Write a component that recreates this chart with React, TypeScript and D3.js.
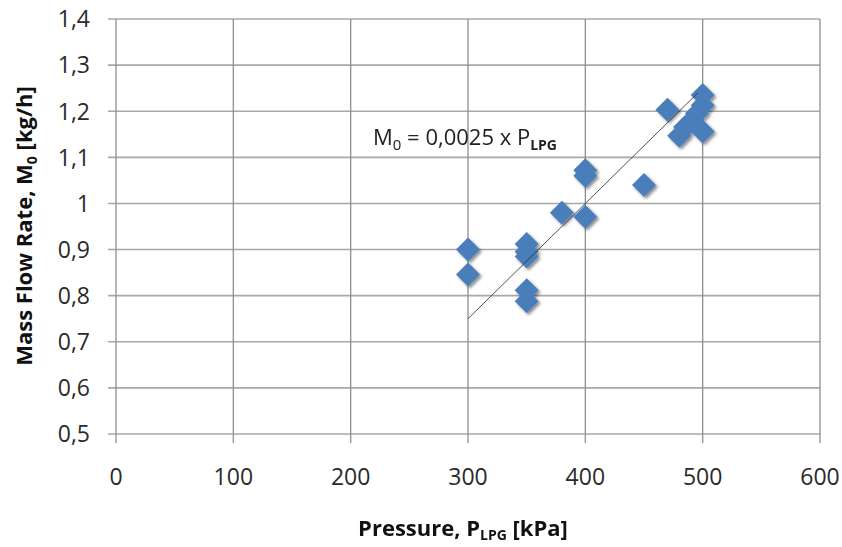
import * as d3 from "d3";
import { useEffect, useRef } from "react";

// measured points: pressure [kPa] and mass flow rate [kg/h]
const pressure = [300, 300, 350, 350, 350, 350, 350, 380, 400, 400, 400, 450, 470, 480, 485, 490, 495, 500, 500, 500];
const massFlow = [0.9, 0.846, 0.912, 0.895, 0.885, 0.812, 0.788, 0.98, 0.971, 1.072, 1.06, 1.04, 1.203, 1.147, 1.166, 1.177, 1.195, 1.235, 1.213, 1.156];

const xTicks = [0, 100, 200, 300, 400, 500, 600];
const yTicks = [0.5, 0.6, 0.7, 0.8, 0.9, 1.0, 1.1, 1.2, 1.3, 1.4];

const slope = 0.0025;
const fitRange = [300, 496];

const App = () => {
  const svgRef = useRef<SVGSVGElement>(null);

  useEffect(() => {
    const width = 842;
    const height = 547;
    const left = 116;
    const right = 820;
    const top = 19;
    const bottom = 434;
    const font = "'Open Sans', sans-serif";

    const x = d3.scaleLinear().domain([0, 600]).range([left, right]);
    const y = d3.scaleLinear().domain([0.5, 1.4]).range([bottom, top]);

    const svg = d3.select(svgRef.current);
    svg.selectAll("*").remove();
    svg.attr("width", width).attr("height", height).style("background", "#fff");

    const defs = svg.append("defs");
    const f = defs
      .append("filter")
      .attr("id", "shadow")
      .attr("x", "-50%")
      .attr("y", "-50%")
      .attr("width", "200%")
      .attr("height", "200%");
    f.append("feDropShadow")
      .attr("dx", 2)
      .attr("dy", 2)
      .attr("stdDeviation", 1.6)
      .attr("flood-color", "#000")
      .attr("flood-opacity", 0.45);

    // horizontal grid
    svg
      .append("g")
      .selectAll("line")
      .data(yTicks)
      .join("line")
      .attr("x1", left - 8)
      .attr("x2", right)
      .attr("y1", (d) => y(d))
      .attr("y2", (d) => y(d))
      .attr("stroke", "#a8a8a8")
      .attr("stroke-width", 1.6);

    // vertical grid
    svg
      .append("g")
      .selectAll("line")
      .data(xTicks)
      .join("line")
      .attr("x1", (d) => x(d))
      .attr("x2", (d) => x(d))
      .attr("y1", top)
      .attr("y2", bottom + 9)
      .attr("stroke", "#8f8f8f")
      .attr("stroke-width", 1.3);

    // tick labels
    const fmt = (v: number) => (v === 1 ? "1" : d3.format(".1f")(v).replace(".", ","));
    svg
      .append("g")
      .selectAll("text")
      .data(yTicks)
      .join("text")
      .attr("x", 90)
      .attr("y", (d) => y(d))
      .attr("dy", "0.36em")
      .attr("text-anchor", "end")
      .attr("font-family", font)
      .attr("font-size", 23)
      .attr("fill", "#2a2a2a")
      .text(fmt);

    svg
      .append("g")
      .selectAll("text")
      .data(xTicks)
      .join("text")
      .attr("x", (d) => x(d))
      .attr("y", 485)
      .attr("text-anchor", "middle")
      .attr("font-family", font)
      .attr("font-size", 23)
      .attr("fill", "#2a2a2a")
      .text((d) => d);

    // markers
    const r = 12;
    svg
      .append("g")
      .attr("filter", "url(#shadow)")
      .selectAll("path")
      .data(pressure.map((p, i) => [p, massFlow[i]]))
      .join("path")
      .attr("transform", (d) => `translate(${x(d[0])},${y(d[1])})`)
      .attr("d", `M0,${-r}L${r},0L0,${r}L${-r},0Z`)
      .attr("fill", "#4a7ebb");

    // fit line, on top of the markers
    svg
      .append("line")
      .attr("x1", x(fitRange[0]))
      .attr("y1", y(slope * fitRange[0]))
      .attr("x2", x(fitRange[1]))
      .attr("y2", y(slope * fitRange[1]))
      .attr("stroke", "#333")
      .attr("stroke-opacity", 0.85)
      .attr("stroke-width", 1);

    // equation
    const eq = svg
      .append("text")
      .attr("x", 373)
      .attr("y", 145)
      .attr("font-family", font)
      .attr("font-size", 22)
      .attr("fill", "#222");
    eq.append("tspan").text("M");
    eq.append("tspan").attr("font-size", 15).attr("dy", 5).text("0");
    eq.append("tspan").attr("dy", -5).text(" = 0,0025 x P");
    eq.append("tspan").attr("font-size", 14).attr("dy", 5).attr("font-weight", "bold").text("LPG");

    // x title
    const xt = svg
      .append("text")
      .attr("x", 463)
      .attr("y", 536)
      .attr("text-anchor", "middle")
      .attr("font-family", font)
      .attr("font-size", 22)
      .attr("font-weight", "bold")
      .attr("fill", "#111");
    xt.append("tspan").text("Pressure, P");
    xt.append("tspan").attr("font-size", 14).attr("dy", 4).text("LPG");
    xt.append("tspan").attr("dy", -4).text(" [kPa]");

    // y title
    const yt = svg
      .append("text")
      .attr("transform", "translate(32,226) rotate(-90)")
      .attr("text-anchor", "middle")
      .attr("font-family", font)
      .attr("font-size", 22)
      .attr("font-weight", "bold")
      .attr("fill", "#111");
    yt.append("tspan").text("Mass Flow Rate, M");
    yt.append("tspan").attr("font-size", 14).attr("dy", 5).text("0");
    yt.append("tspan").attr("dy", -5).text(" [kg/h]");
  }, []);

  return (
    <svg ref={svgRef} style={{ position: "absolute", left: 0, top: 0 }}></svg>
  );
};

export default App;
